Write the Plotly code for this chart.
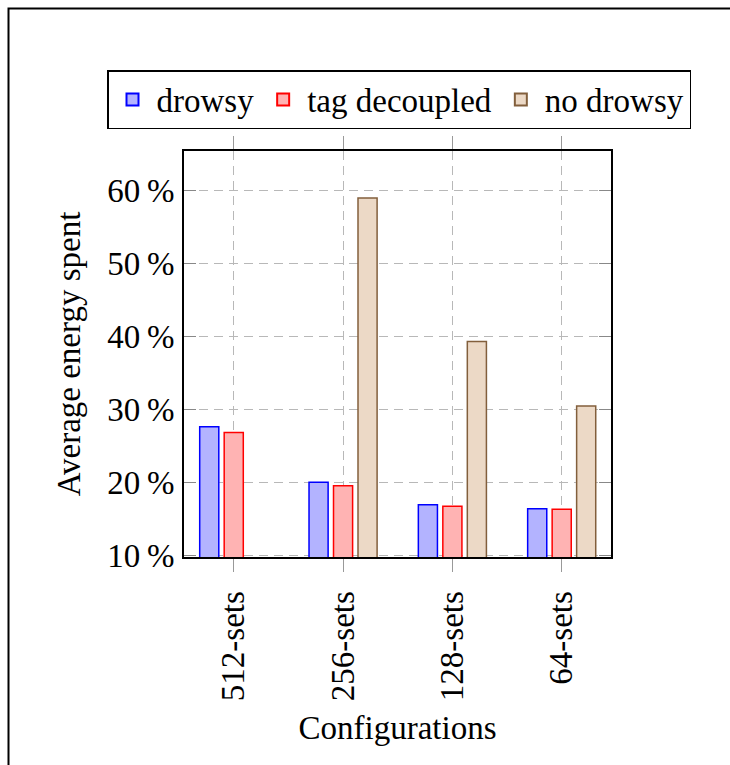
import plotly.graph_objects as go

categories = ["512-sets", "256-sets", "128-sets", "64-sets"]
drowsy = [27.6, 20.0, 16.9, 16.35]
tag_decoupled = [26.8, 19.5, 16.7, 16.3]
no_drowsy = [None, 59.0, 39.3, 30.45]
ytick_vals = [10, 20, 30, 40, 50, 60]
ytick_text = [f"{v}\u2009%" for v in ytick_vals]

W, H = 730, 765
ML, MR, MT, MB = 184, 119, 151, 208
FONT = "Liberation Serif"
FS = 33

fig = go.Figure()
fig.add_trace(go.Bar(name="drowsy", x=categories, y=drowsy,
                     marker=dict(color="#b3b3ff", line=dict(color="#0000ff", width=1.5))))
fig.add_trace(go.Bar(name="tag decoupled", x=categories, y=tag_decoupled,
                     marker=dict(color="#ffb3b3", line=dict(color="#ff0000", width=1.5))))
fig.add_trace(go.Bar(name="no drowsy", x=categories, y=no_drowsy,
                     marker=dict(color="#ecd9c6", line=dict(color="#825f3c", width=1.5))))

pw = W - ML - MR
ph = H - MT - MB
def px_x(p):
    return (p - ML) / pw
def px_y(p):
    return 1 - (p - MT) / ph

fig.add_shape(type="rect", xref="paper", yref="paper",
              x0=px_x(8.5), x1=px_x(W + 10), y0=px_y(H + 10), y1=px_y(8.5),
              line=dict(color="black", width=2), fillcolor="rgba(0,0,0,0)", layer="below")

fig.update_layout(
    width=W, height=H,
    margin=dict(l=ML, r=MR, t=MT, b=MB, autoexpand=False),
    paper_bgcolor="white", plot_bgcolor="white",
    font=dict(family=FONT, size=FS, color="black"),
    barmode="group", bargap=0.328, bargroupgap=0.22,
    showlegend=True,
    legend=dict(orientation="h", x=px_x(107), xanchor="left", y=px_y(70), yanchor="top",
                bordercolor="black", borderwidth=1.5, bgcolor="white",
                font=dict(family=FONT, size=FS), itemsizing="constant",
                tracegroupgap=0, itemwidth=38),
    xaxis=dict(
        type="category", range=[-0.455, 3.451],
        showline=True, linecolor="black", linewidth=2, mirror="all",
        ticks="outside", ticklen=13, tickcolor="#999999", tickwidth=1,
        tickangle=-90, ticklabelstandoff=6,
        showgrid=True, gridcolor="#b8b8b8", gridwidth=1.3, griddash="9px,6px",
        title=dict(text="Configurations", font=dict(size=FS), standoff=16),
        automargin=False,
    ),
    yaxis=dict(
        range=[9.73, 65.45],
        tickvals=ytick_vals, ticktext=ytick_text,
        showline=True, linecolor="black", linewidth=2, mirror="all",
        ticks="inside", ticklen=12, tickcolor="#888888", tickwidth=1,
        ticklabelstandoff=1,
        showgrid=True, gridcolor="#b8b8b8", gridwidth=1.3, griddash="9px,6px",
        zeroline=False,
        title=dict(text="Average energy spent", font=dict(size=FS), standoff=17),
        automargin=False,
    ),
)

fig.write_html("out.html")
